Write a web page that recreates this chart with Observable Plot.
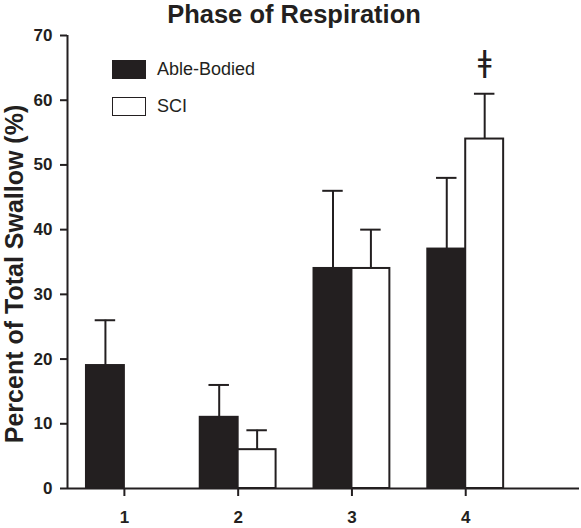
<!DOCTYPE html>
<html>
<head>
<meta charset="utf-8">
<script src="https://cdn.jsdelivr.net/npm/d3@7"></script>
<script src="https://cdn.jsdelivr.net/npm/@observablehq/plot@0.6"></script>
<style>
  body { margin: 0; background: #fff; }
  #wrap { position: relative; width: 581px; height: 528px; font-family: "Liberation Sans", Arial, sans-serif; color: #231f20; }
  #chart { position: absolute; left: 0; top: 0; }
  #title { position: absolute; left: 0; top: 0; width: 581px; height: 30px; }
  #title span { position: absolute; left: 294px; top: 0px; transform: translateX(-50%); font-size: 25.5px; line-height: normal; font-weight: bold; white-space: nowrap; }
  .leg { position: absolute; left: 112px; display: flex; align-items: center; font-size: 18px; }
  .sw { width: 32px; height: 17px; border: 1.5px solid #231f20; margin-right: 11px; }
</style>
</head>
<body>
<div id="wrap">
  <div id="chart"></div>
  <div id="title"><span>Phase of Respiration</span></div>
  <div class="leg" style="top:59px"><div class="sw" style="background:#231f20"></div>Able-Bodied</div>
  <div class="leg" style="top:96px"><div class="sw" style="background:#fff"></div>SCI</div>
</div>
<script>
const phases = [1, 2, 3, 4];
const groups = ["Able-Bodied", "SCI"];
const ableBodied = [19, 11, 34, 37];
const ableBodiedErr = [26, 16, 46, 48];
const sci = [null, 6, 34, 54];
const sciErr = [null, 9, 40, 61];
const yTicks = [0, 10, 20, 30, 40, 50, 60, 70];
const yTitle = "Percent of Total Swallow (%)";
const markerLabel = "ǂ";
const markerPhase = 4;
const markerValue = 65.8;

const ink = "#231f20";
const half = 1 / 3;      // bar width in phase units
const cap = 0.09;        // half cap width in phase units

const rows = [];
phases.forEach((p, i) => {
  if (ableBodied[i] != null) rows.push({phase: p, group: groups[0], value: ableBodied[i], err: ableBodiedErr[i], off: -1});
  if (sci[i] != null) rows.push({phase: p, group: groups[1], value: sci[i], err: sciErr[i], off: 0});
});
const x1 = d => d.phase + d.off * half;
const x2 = d => d.phase + (d.off + 1) * half;
const xc = d => d.phase + (d.off + 0.5) * half;

const chart = Plot.plot({
  width: 581,
  height: 528,
  marginTop: 35,
  marginBottom: 40,
  marginLeft: 67,
  marginRight: 2,
  style: {fontFamily: "'Liberation Sans', Arial, sans-serif", color: ink, background: "white"},
  x: {type: "linear", domain: [0.5, 5]},
  y: {domain: [0, 70]},
  marks: [
    Plot.ruleX(rows, {x: xc, y1: "value", y2: "err", stroke: ink, strokeWidth: 2}),
    Plot.ruleY(rows, {y: "err", x1: d => xc(d) - cap, x2: d => xc(d) + cap, stroke: ink, strokeWidth: 2}),
    Plot.rectY(rows, {x1, x2, y1: 0, y2: "value", fill: d => d.group === groups[0] ? ink : "white", stroke: ink, strokeWidth: 2}),
    Plot.ruleX([0.5], {y1: 0, y2: 70, stroke: ink, strokeWidth: 2}),
    Plot.ruleY([0], {stroke: ink, strokeWidth: 2}),
    Plot.axisY({ticks: yTicks, tickSize: 7, tickPadding: 8, fontSize: 17, fontWeight: "bold", label: null, stroke: ink, strokeWidth: 2}),
    Plot.axisX({ticks: phases, tickSize: 8, tickPadding: 14, fontSize: 17, fontWeight: "bold", label: null, tickFormat: d => String(d), stroke: ink, strokeWidth: 2}),
    Plot.text([yTitle], {frameAnchor: "left", textAnchor: "middle", rotate: -90, dx: -53, dy: 12, fontSize: 25, fontWeight: "bold", fill: ink}),
    Plot.text([markerLabel], {x: [markerPhase + half / 2], y: [markerValue], fontSize: 30, fill: ink, fontFamily: "DejaVu Sans"})
  ]
});
document.getElementById("chart").appendChild(chart);
</script>
</body>
</html>
